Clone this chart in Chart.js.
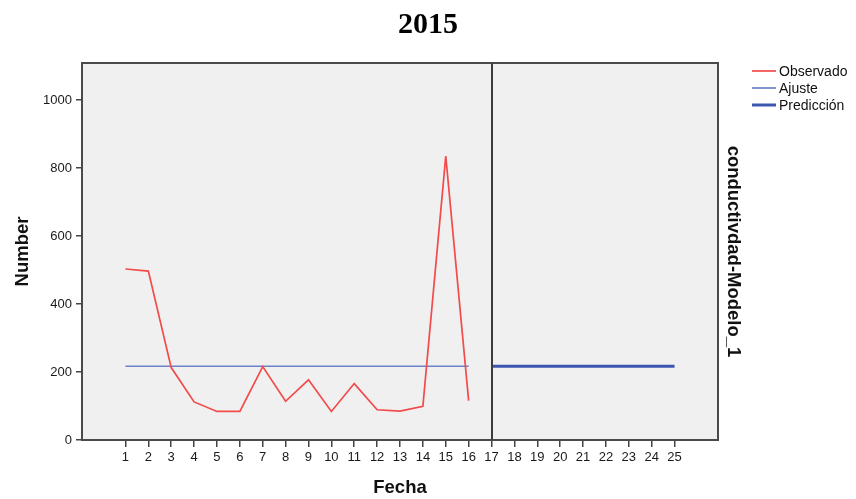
<!DOCTYPE html>
<html><head><meta charset="utf-8">
<script src="https://cdn.jsdelivr.net/npm/chart.js@4/dist/chart.umd.min.js"></script>
<style>html,body{margin:0;padding:0;background:#fff}</style>
</head><body>
<canvas id="c" width="856" height="499"></canvas>
<script>
const chartTitle = '2015';
const fechaObservado = [1, 2, 3, 4, 5, 6, 7, 8, 9, 10, 11, 12, 13, 14, 15, 16];
const observado = [503, 497, 213, 112, 84, 84, 216, 114, 177, 84, 166, 89, 85, 99, 835, 116];
const fechaAjuste = [1, 2, 3, 4, 5, 6, 7, 8, 9, 10, 11, 12, 13, 14, 15, 16];
const ajuste = [217, 217, 217, 217, 217, 217, 217, 217, 217, 217, 217, 217, 217, 217, 217, 217];
const fechaPrediccion = [17, 18, 19, 20, 21, 22, 23, 24, 25];
const prediccion = [217, 217, 217, 217, 217, 217, 217, 217, 217];
const xTickLabels = [1, 2, 3, 4, 5, 6, 7, 8, 9, 10, 11, 12, 13, 14, 15, 16, 17, 18, 19, 20, 21, 22, 23, 24, 25];
const yTickValues = [0, 200, 400, 600, 800, 1000];
const splitFecha = 17;
const seriesNames = ['Observado', 'Ajuste', 'Predicción'];
const xTitle = 'Fecha';
const yTitle = 'Number';
const rightTitle = 'conductivdad-Modelo_1';

const pts = (xs, ys) => xs.map((x, i) => ({x: x, y: ys[i]}));

const frame = {
  id: 'frame',
  beforeDraw(chart) {
    const {ctx, chartArea: a} = chart;
    ctx.save();
    ctx.fillStyle = '#f0f0f0';
    ctx.fillRect(a.left, a.top, a.right - a.left, a.bottom - a.top);
    ctx.restore();
  },
  afterDraw(chart) {
    const {ctx, chartArea: a, scales} = chart;
    ctx.save();
    ctx.strokeStyle = '#4a4a4a';
    ctx.lineWidth = 2;
    ctx.strokeRect(a.left, a.top, a.right - a.left, a.bottom - a.top);
    const sx = Math.round(scales.x.getPixelForValue(splitFecha));
    ctx.strokeStyle = '#3c3c3c';
    ctx.lineWidth = 2;
    ctx.beginPath();
    ctx.moveTo(sx, a.top);
    ctx.lineTo(sx, a.bottom);
    ctx.stroke();
    // legend
    const ds = chart.data.datasets;
    ctx.font = '14px "Liberation Sans", Arial, sans-serif';
    ctx.textBaseline = 'middle';
    ctx.fillStyle = '#111';
    const rows = [71, 88, 105];
    ds.forEach((d, i) => {
      const y = rows[i];
      ctx.strokeStyle = d.borderColor;
      ctx.lineWidth = d.borderWidth;
      ctx.beginPath();
      ctx.moveTo(752, y);
      ctx.lineTo(776, y);
      ctx.stroke();
      ctx.fillText(d.label, 779, y + 1);
    });
    ctx.restore();
  }
};

new Chart(document.getElementById('c'), {
  type: 'line',
  data: {
    datasets: [
      {label: seriesNames[0], data: pts(fechaObservado, observado), borderColor: '#f34a4a', borderWidth: 1.7, pointRadius: 0, tension: 0, fill: false},
      {label: seriesNames[1], data: pts(fechaAjuste, ajuste), borderColor: '#6c82c6', borderWidth: 1.7, pointRadius: 0, tension: 0, fill: false},
      {label: seriesNames[2], data: pts(fechaPrediccion, prediccion), borderColor: '#3d56b0', borderWidth: 3, pointRadius: 0, tension: 0, fill: false}
    ]
  },
  options: {
    responsive: false,
    animation: false,
    devicePixelRatio: 1,
    layout: {padding: 0},
    plugins: {
      legend: {display: false},
      tooltip: {enabled: false},
      title: {
        display: true,
        text: chartTitle,
        color: '#000',
        font: {family: '"Liberation Serif", "Times New Roman", serif', size: 30, weight: 'bold'},
        padding: {top: 7, bottom: 20}
      }
    },
    scales: {
      x: {
        type: 'linear',
        position: 'bottom',
        min: -0.9,
        max: 26.9,
        afterBuildTicks: s => { s.ticks = xTickLabels.map(v => ({value: v})); },
        afterFit: s => { s.height = 59; },
        ticks: {autoSkip: false, maxRotation: 0, padding: 3, color: '#1a1a1a', font: {family: '"Liberation Sans", Arial, sans-serif', size: 13}, callback: v => String(v)},
        grid: {display: true, drawOnChartArea: false, drawTicks: true, tickLength: 7, color: '#444', lineWidth: 1.5},
        border: {display: false},
        title: {display: true, text: xTitle, color: '#111', padding: {top: 0, bottom: 0}, font: {family: '"Liberation Sans", Arial, sans-serif', size: 18.5, weight: 'bold'}}
      },
      y: {
        position: 'left',
        min: 0,
        max: 1109,
        afterBuildTicks: s => { s.ticks = yTickValues.map(v => ({value: v})); },
        afterFit: s => { s.width = 82; },
        ticks: {padding: 4, color: '#1a1a1a', font: {family: '"Liberation Sans", Arial, sans-serif', size: 13}, callback: v => String(v)},
        grid: {display: true, drawOnChartArea: false, drawTicks: true, tickLength: 6, color: '#444', lineWidth: 1.5},
        border: {display: false},
        title: {display: true, text: yTitle, color: '#111', padding: {top: 12, bottom: 0}, font: {family: '"Liberation Sans", Arial, sans-serif', size: 18.5, weight: 'bold'}}
      },
      y2: {
        position: 'right',
        display: true,
        min: 0,
        max: 1109,
        afterFit: s => { s.width = 138; },
        ticks: {display: false},
        grid: {display: false, drawTicks: false},
        border: {display: false},
        title: {display: true, text: rightTitle, color: '#111', padding: {top: 112, bottom: 0}, font: {family: '"Liberation Sans", Arial, sans-serif', size: 18.5, weight: 'bold'}}
      }
    }
  },
  plugins: [frame]
});
</script>
</body></html>
